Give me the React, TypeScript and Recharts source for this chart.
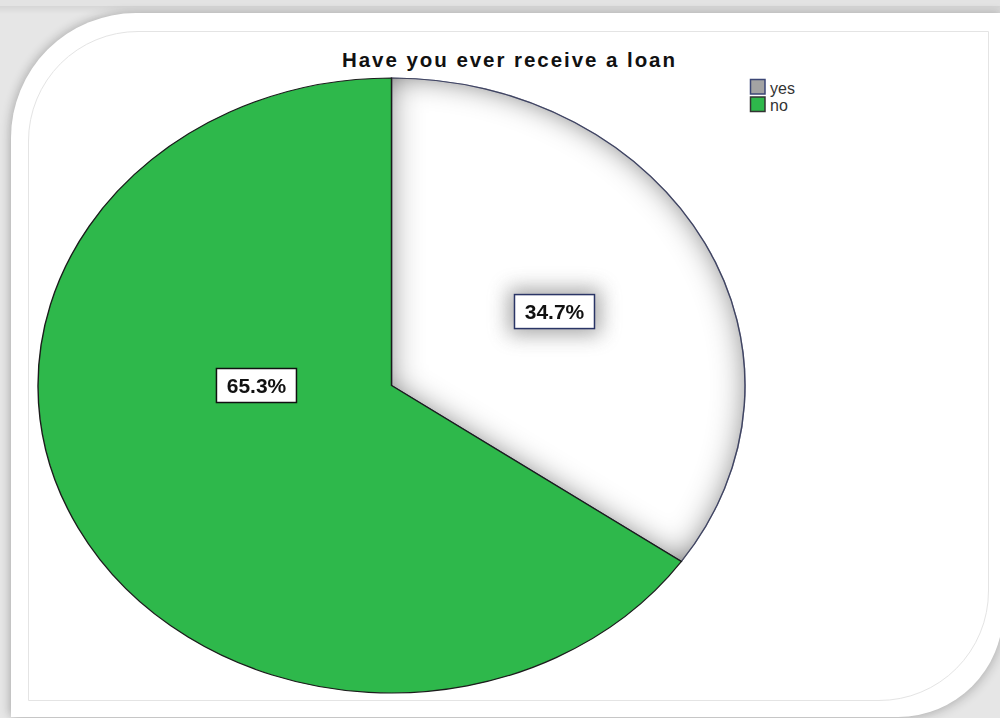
import React from 'react';
import { PieChart, Pie, Cell } from 'recharts';

// ---- data ----
const CATEGORIES = ['yes', 'no'];
const VALUES = [34.7, 65.3];
const SLICE_FILLS = ['#ffffff', '#2eb84b'];
const SLICE_STROKES = ['#26316b', '#1c1c1c'];
const LEGEND_FILLS = ['#a3a3a3', '#2eb84b'];
const LEGEND_STROKES = ['#3b4675', '#333333'];
const TITLE = 'Have you ever receive a loan';

const data = CATEGORIES.map((name, i) => ({ name, value: VALUES[i] }));

// ---- geometry (pie is drawn as a circle and squashed into an ellipse) ----
const CX = 391.5;
const CY = 385.5;
const RX = 353.5;
const RY = 307.5;
const K = RY / RX;
const FONT = '"Liberation Sans", Arial, Helvetica, sans-serif';

// label placement per slice (radius fraction, optional angle override)
const LABEL_PLACE = [
  { r: 0.52 },
  { r: 0.382, angle: 180 },
];

const renderLabel = (props: any) => {
  const { cx, cy, midAngle, outerRadius, percent, index } = props;
  const place = LABEL_PLACE[index];
  const ang = ((place.angle ?? midAngle) * Math.PI) / 180;
  const r = outerRadius * place.r;
  const x = cx + r * Math.cos(-ang);
  const y = cy + r * Math.sin(-ang);
  const w = 80;
  const h = 34;
  return (
    <g transform={`translate(${x} ${y}) scale(1 ${1 / K})`}>
      {index === 0 && (
        <rect x={-w / 2 - 6} y={-h / 2 - 6} width={w + 12} height={h + 12} fill="#6e6e6e" opacity={0.6} filter="url(#labelGlow)" />
      )}
      <rect
        x={-w / 2}
        y={-h / 2}
        width={w}
        height={h}
        fill="#ffffff"
        stroke={index === 0 ? '#2a3566' : '#111111'}
        strokeWidth={1.5}
      />
      <text
        x={0}
        y={7.6}
        textAnchor="middle"
        fontFamily={FONT}
        fontSize={21}
        fontWeight="bold"
        fill="#111111"
      >
        {`${(percent * 100).toFixed(1)}%`}
      </text>
    </g>
  );
};

export default function App() {
  return (
    <div
      style={{
        position: 'absolute',
        left: 0,
        top: 0,
        width: 1000,
        height: 718,
        overflow: 'hidden',
        background: 'linear-gradient(180deg, #e3e3e3 0px, #e3e3e3 6px, #d6d6d6 6px, #e6e6e6 14px, #e6e6e6 100%)',
        fontFamily: FONT,
      }}
    >
      {/* card */}
      <div
        style={{
          position: 'absolute',
          left: 11,
          top: 13,
          width: 992,
          height: 704,
          background: '#ffffff',
          borderTopLeftRadius: 125,
          borderBottomRightRadius: 105,
          boxShadow: '-3px -2px 8px rgba(0,0,0,0.16), 3px 3px 10px rgba(0,0,0,0.14)',
        }}
      />
      {/* inner frame */}
      <div
        style={{
          position: 'absolute',
          left: 28,
          top: 31,
          width: 961,
          height: 670,
          boxSizing: 'border-box',
          border: '1px solid #e4e4e4',
          borderTopLeftRadius: 110,
          borderBottomRightRadius: 110,
        }}
      />
      {/* pie, squashed vertically */}
      <div
        style={{
          position: 'absolute',
          left: 0,
          top: 0,
          width: 1000,
          height: 760,
          transform: `scaleY(${K})`,
          transformOrigin: `0px ${CY}px`,
        }}
      >
        <PieChart width={1000} height={760} margin={{ top: 0, right: 0, bottom: 0, left: 0 }}>
          <defs>
            <filter id="innerShadow" x="-10%" y="-10%" width="120%" height="120%">
              <feFlood floodColor="#555555" result="flood" />
              <feComposite in="flood" in2="SourceAlpha" operator="out" result="outside" />
              <feGaussianBlur in="outside" stdDeviation="16" result="blur" />
              <feComposite in="blur" in2="SourceAlpha" operator="in" result="inner" />
              <feMerge>
                <feMergeNode in="SourceGraphic" />
                <feMergeNode in="inner" />
              </feMerge>
            </filter>
            <filter id="labelGlow" x="-80%" y="-150%" width="260%" height="400%">
              <feGaussianBlur stdDeviation="10" />
            </filter>
          </defs>
          <Pie
            data={data}
            dataKey="value"
            nameKey="name"
            cx={CX}
            cy={CY}
            outerRadius={RX}
            startAngle={90}
            endAngle={-270}
            isAnimationActive={false}
            label={renderLabel}
            labelLine={false}
          >
            {data.map((d, i) => (
              <Cell
                key={d.name}
                fill={SLICE_FILLS[i]}
                stroke={SLICE_STROKES[i]}
                strokeWidth={1.4}
                filter={i === 0 ? 'url(#innerShadow)' : undefined}
              />
            ))}
          </Pie>
        </PieChart>
      </div>
      {/* title and legend */}
      <svg width={1000} height={718} style={{ position: 'absolute', left: 0, top: 0, pointerEvents: 'none' }}>
        <text x={342} y={67} fontFamily={FONT} fontSize={20.5} fontWeight="bold" fill="#111111" textLength={333} lengthAdjust="spacing">
          {TITLE}
        </text>
        {CATEGORIES.map((c, i) => (
          <g key={c}>
            <rect x={750.5} y={79.5 + i * 17.5} width={14.5} height={14.5} fill={LEGEND_FILLS[i]} stroke={LEGEND_STROKES[i]} strokeWidth={1.5} />
            <text x={770} y={94 + i * 17} fontFamily={FONT} fontSize={16} fill="#333333">
              {c}
            </text>
          </g>
        ))}
      </svg>
    </div>
  );
}
